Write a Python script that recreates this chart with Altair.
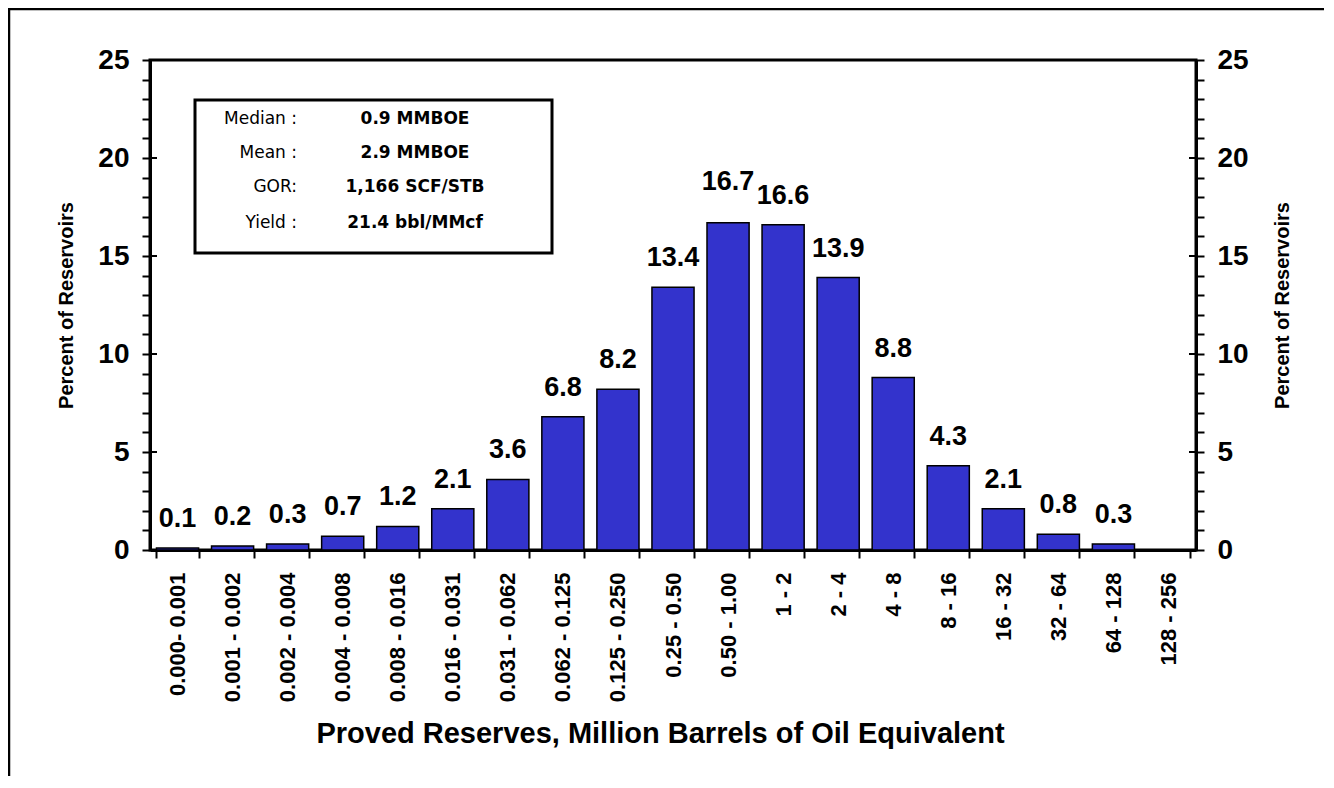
import altair as alt
import pandas as pd

categories = ["0.000- 0.001", "0.001 - 0.002", "0.002 - 0.004", "0.004 - 0.008",
              "0.008 - 0.016", "0.016 - 0.031", "0.031 - 0.062", "0.062 - 0.125",
              "0.125 - 0.250", "0.25 - 0.50", "0.50 - 1.00", "1 - 2", "2 - 4",
              "4 - 8", "8 - 16", "16 - 32", "32 - 64", "64 - 128", "128 - 256"]
percents = [0.1, 0.2, 0.3, 0.7, 1.2, 2.1, 3.6, 6.8, 8.2, 13.4, 16.7, 16.6, 13.9,
            8.8, 4.3, 2.1, 0.8, 0.3, None]
stat_labels = ["Median :", "Mean :", "GOR:", "Yield :"]
stat_values = ["0.9 MMBOE", "2.9 MMBOE", "1,166 SCF/STB", "21.4 bbl/MMcf"]
y_major = [0, 5, 10, 15, 20, 25]
y_all = list(range(0, 26))

W, H = 1046, 490
FONT = "Liberation Sans"
BOX_FONT = "DejaVu Sans"

df = pd.DataFrame({"cat": categories, "pct": percents})
ticks_df = pd.DataFrame({"v": y_major})

yscale = alt.Scale(domain=[0, 25], nice=False, zero=True)
xscale = alt.Scale(domain=categories, paddingInner=0.235, paddingOuter=0.1175)

xenc = alt.X(
    "cat:N", sort=categories, scale=xscale,
    title="Proved Reserves, Million Barrels of Oil Equivalent",
    axis=alt.Axis(
        labelAngle=270, tickBand="extent", tickSize=8, tickWidth=2, domainWidth=3,
        labelFontSize=22, labelFontWeight="bold", labelPadding=14, labelLimit=300,
        titleFontSize=29, titleFontWeight="bold", titleX=510, titleY=192,
        titleBaseline="alphabetic", titleAlign="center",
    ),
)

def yaxis(orient, title_x):
    return alt.Axis(
        orient=orient, values=y_all,
        labelExpr="datum.value % 5 == 0 ? datum.label : ''",
        tickSize=8, tickWidth=2, domainWidth=3,
        labelFontSize=28, labelFontWeight="bold", labelPadding=13,
        title="Percent of Reservoirs", titleFontSize=20, titleFontWeight="bold",
        titleAngle=270, titleX=title_x, titleY=H / 2, titleAlign="center",
        titleBaseline="middle",
    )

bars = alt.Chart(df).mark_bar(color="#3333CC", stroke="black", strokeWidth=1.5).encode(
    x=xenc,
    y=alt.Y("pct:Q", scale=yscale, axis=yaxis("left", -84)),
)

right_axis = alt.Chart(df).mark_bar(opacity=0).encode(
    x=xenc,
    y=alt.Y("pct:Q", scale=yscale, axis=yaxis("right", 86)),
)

def label_layer(flt, dy):
    return alt.Chart(df).transform_filter(flt).mark_text(
        baseline="alphabetic", dy=dy, fontSize=27, fontWeight="bold", font=FONT,
        color="black"
    ).encode(
        x=xenc,
        y=alt.Y("pct:Q", scale=yscale, axis=None),
        text=alt.Text("pct:Q", format=".1f"),
    )

labels = label_layer("datum.pct != null && datum.cat != '0.50 - 1.00'", -21)
labels_top = label_layer("datum.cat == '0.50 - 1.00'", -33)

in_left = alt.Chart(ticks_df).mark_rule(color="black", strokeWidth=2).encode(
    y=alt.Y("v:Q", scale=yscale, axis=None), x=alt.value(0), x2=alt.value(7)
)
in_right = alt.Chart(ticks_df).mark_rule(color="black", strokeWidth=2).encode(
    y=alt.Y("v:Q", scale=yscale, axis=None), x=alt.value(W - 7), x2=alt.value(W)
)

one = pd.DataFrame({"a": [0]})
box = alt.Chart(one).mark_rect(fill="white", stroke="black", strokeWidth=3).encode(
    x=alt.value(45), x2=alt.value(402), y=alt.value(40), y2=alt.value(193)
)

row_y = [59, 93, 127, 163]
texts = []
for i, (lab, val) in enumerate(zip(stat_labels, stat_values)):
    texts.append(
        alt.Chart(pd.DataFrame({"t": [lab]})).mark_text(
            align="right", baseline="middle", fontSize=17, font=BOX_FONT, color="black"
        ).encode(text="t:N", x=alt.value(147), y=alt.value(row_y[i]))
    )
    texts.append(
        alt.Chart(pd.DataFrame({"t": [val]})).mark_text(
            align="center", baseline="middle", fontSize=17, fontWeight="bold",
            font=BOX_FONT, color="black"
        ).encode(text="t:N", x=alt.value(265), y=alt.value(row_y[i]))
    )

frame_top = alt.Chart(one).mark_rule(color="black", strokeWidth=2.5).encode(
    x=alt.value(-142), x2=alt.value(W + 128), y=alt.value(-51)
)
frame_left = alt.Chart(one).mark_rule(color="black", strokeWidth=2.5).encode(
    x=alt.value(-141), y=alt.value(-52), y2=alt.value(H + 226)
)

chart = alt.layer(
    bars, right_axis, labels, labels_top, in_left, in_right, box, *texts,
    frame_top, frame_left
).resolve_axis(y="independent").properties(
    width=W, height=H,
    autosize=alt.AutoSizeParams(type="none"),
    padding={"left": 142, "top": 52, "right": 128, "bottom": 226},
    background="white",
).configure_view(
    stroke="black", strokeWidth=3
).configure_axis(
    domainColor="black", tickColor="black", labelColor="black", titleColor="black",
    labelFont=FONT, titleFont=FONT, grid=False,
)

chart.save("out.html", embed_options={"renderer": "svg", "actions": False})
